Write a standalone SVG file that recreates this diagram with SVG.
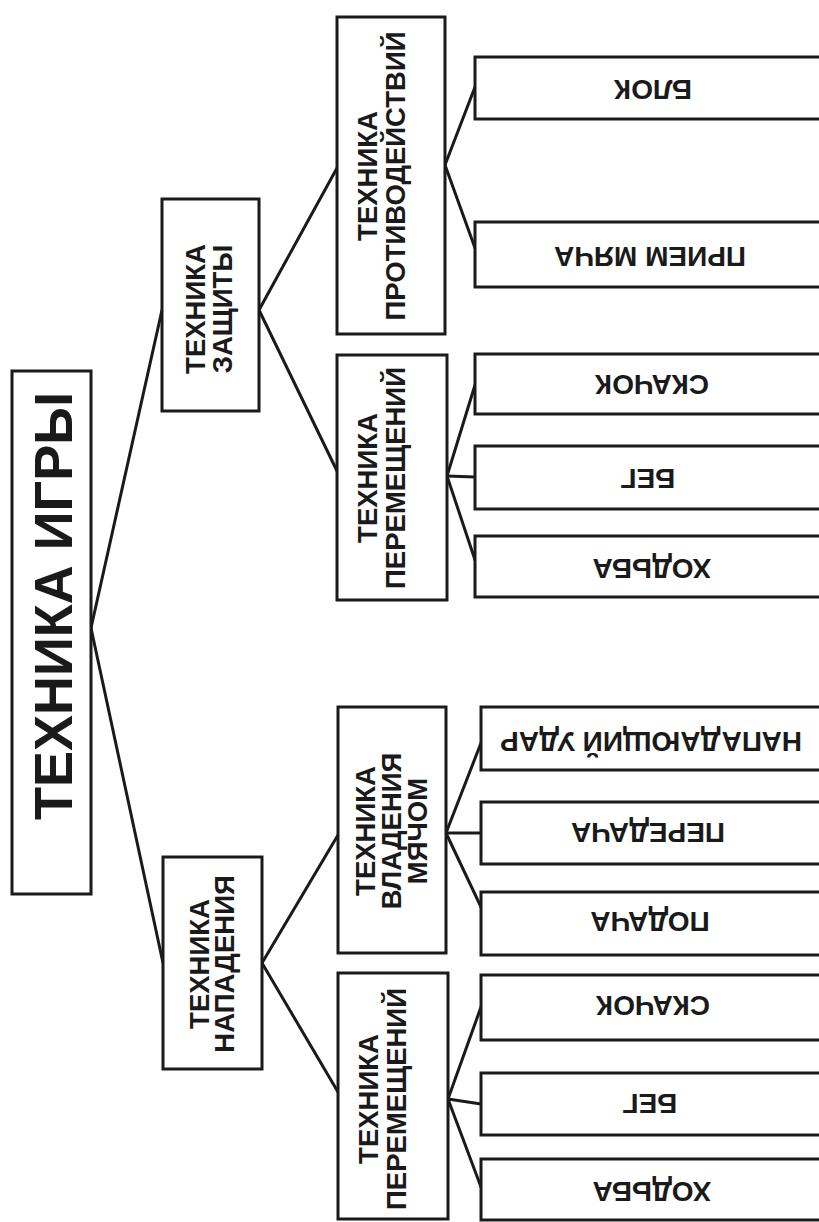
<svg xmlns="http://www.w3.org/2000/svg" width="819" height="1222" viewBox="0 0 819 1222">
<style>
.box{fill:#fff;stroke:#1a1a1a;stroke-width:3}
.ln{stroke:#1a1a1a;stroke-width:3;fill:none;stroke-linecap:round}
.t{font-family:"Liberation Sans",Arial,sans-serif;font-weight:bold;fill:#1a1a1a;text-anchor:middle}
.main{font-size:54px}
.mid{font-size:27.5px}
.leaf{font-size:28px}
</style>
<rect width="819" height="1222" fill="#fff"/>
<g id="connectors">
<line class="ln" x1="91" y1="628" x2="162" y2="310"/>
<line class="ln" x1="91" y1="628" x2="163" y2="963"/>
<line class="ln" x1="259" y1="310" x2="337" y2="168"/>
<line class="ln" x1="259" y1="310" x2="337" y2="471"/>
<line class="ln" x1="262" y1="963" x2="338" y2="835"/>
<line class="ln" x1="262" y1="963" x2="338" y2="1092"/>
<line class="ln" x1="445" y1="165" x2="475" y2="87"/>
<line class="ln" x1="445" y1="165" x2="475" y2="248"/>
<line class="ln" x1="447" y1="476" x2="475" y2="385"/>
<line class="ln" x1="447" y1="476" x2="475" y2="477"/>
<line class="ln" x1="447" y1="476" x2="475" y2="560"/>
<line class="ln" x1="446" y1="833" x2="481" y2="743"/>
<line class="ln" x1="446" y1="833" x2="481" y2="833"/>
<line class="ln" x1="446" y1="833" x2="481" y2="907"/>
<line class="ln" x1="448" y1="1099" x2="481" y2="1007"/>
<line class="ln" x1="448" y1="1099" x2="481" y2="1104"/>
<line class="ln" x1="448" y1="1099" x2="481" y2="1187"/>
</g>
<g id="main">
<rect class="box" x="12" y="371" width="79" height="523"/>
<text class="t main" transform="rotate(-90)" x="-606" y="72">ТЕХНИКА ИГРЫ</text>
</g>
<g id="zashchita">
<rect class="box" x="162" y="199" width="97" height="212"/>
<text class="t mid" transform="rotate(-90)" x="-309" y="205">ТЕХНИКА<tspan x="-309" y="232">ЗАЩИТЫ</tspan></text>
</g>
<g id="napadenie">
<rect class="box" x="163" y="857" width="99" height="212"/>
<text class="t mid" transform="rotate(-90)" x="-964" y="209">ТЕХНИКА<tspan x="-964" y="234">НАПАДЕНИЯ</tspan></text>
</g>
<g id="protivodeystviy">
<rect class="box" x="337" y="17" width="108" height="317"/>
<text class="t mid" transform="rotate(-90)" x="-176" y="377">ТЕХНИКА<tspan x="-176" y="405">ПРОТИВОДЕЙСТВИЙ</tspan></text>
</g>
<g id="peremeshcheniy-z">
<rect class="box" x="337" y="355" width="110" height="245"/>
<text class="t mid" transform="rotate(-90)" x="-478" y="377">ТЕХНИКА<tspan x="-478" y="405">ПЕРЕМЕЩЕНИЙ</tspan></text>
</g>
<g id="vladeniya">
<rect class="box" x="338" y="707" width="108" height="246"/>
<text class="t mid" transform="rotate(-90)" x="-831" y="375">ТЕХНИКА<tspan x="-831" y="401">ВЛАДЕНИЯ</tspan><tspan x="-831" y="427">МЯЧОМ</tspan></text>
</g>
<g id="peremeshcheniy-n">
<rect class="box" x="338" y="973" width="110" height="246"/>
<text class="t mid" transform="rotate(-90)" x="-1099" y="378">ТЕХНИКА<tspan x="-1099" y="406">ПЕРЕМЕЩЕНИЙ</tspan></text>
</g>
<g id="blok">
<rect class="box" x="475" y="57" width="360" height="62"/>
<text class="t leaf" transform="translate(653 90) rotate(180)" y="10">БЛОК</text>
</g>
<g id="priem">
<rect class="box" x="475" y="222" width="360" height="65"/>
<text class="t leaf" transform="translate(650 257) rotate(180)" y="10">ПРИЕМ МЯЧА</text>
</g>
<g id="skachok-z">
<rect class="box" x="475" y="354" width="360" height="60"/>
<text class="t leaf" transform="translate(652 385) rotate(180)" y="10">СКАЧОК</text>
</g>
<g id="beg-z">
<rect class="box" x="475" y="446" width="360" height="63"/>
<text class="t leaf" transform="translate(648 479) rotate(180)" y="10">БЕГ</text>
</g>
<g id="khodba-z">
<rect class="box" x="475" y="536" width="360" height="61"/>
<text class="t leaf" transform="translate(652 569) rotate(180)" y="10">ХОДЬБА</text>
</g>
<g id="napadayushchiy">
<rect class="box" x="481" y="707" width="360" height="63"/>
<text class="t leaf" transform="translate(651 742) rotate(180)" y="10">НАПАДАЮЩИЙ УДАР</text>
</g>
<g id="peredacha">
<rect class="box" x="481" y="802" width="360" height="62"/>
<text class="t leaf" transform="translate(648 833) rotate(180)" y="10">ПЕРЕДАЧА</text>
</g>
<g id="podacha">
<rect class="box" x="481" y="892" width="360" height="63"/>
<text class="t leaf" transform="translate(650 922) rotate(180)" y="10">ПОДАЧА</text>
</g>
<g id="skachok-n">
<rect class="box" x="481" y="975" width="360" height="65"/>
<text class="t leaf" transform="translate(653 1006) rotate(180)" y="10">СКАЧОК</text>
</g>
<g id="beg-n">
<rect class="box" x="481" y="1073" width="360" height="62"/>
<text class="t leaf" transform="translate(650 1104) rotate(180)" y="10">БЕГ</text>
</g>
<g id="khodba-n">
<rect class="box" x="481" y="1159" width="360" height="61"/>
<text class="t leaf" transform="translate(652 1192) rotate(180)" y="10">ХОДЬБА</text>
</g>
</svg>
